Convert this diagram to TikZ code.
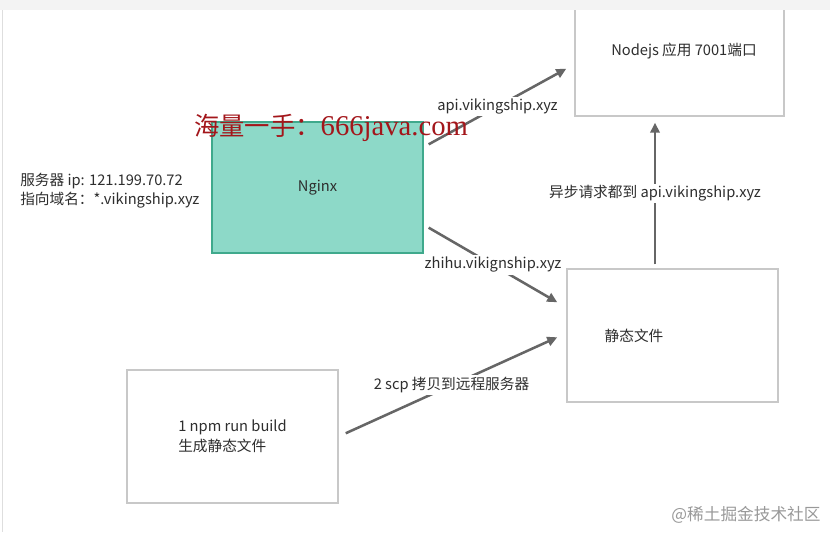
\documentclass[tikz,border=0pt]{standalone}
\usepackage{fontspec}
\setmainfont{Noto Sans CJK SC}
\newfontfamily\wmserif{Liberation Serif}
\usepackage{xcolor}
\usepackage{tikz}
\usetikzlibrary{arrows.meta}
\definecolor{boxLine}{HTML}{C8C8C8}
\definecolor{nginxFill}{HTML}{8DD9C8}
\definecolor{nginxLine}{HTML}{3FA98C}
\definecolor{flowGrey}{HTML}{666666}
\definecolor{textGrey}{HTML}{2E2E2E}
\definecolor{markRed}{HTML}{A3161B}
\definecolor{bandGrey}{HTML}{F3F3F3}
\tikzset{
  plainbox/.style={rectangle, draw=boxLine, fill=white, line width=1.1pt, align=left, font=\fontsize{11}{15}\selectfont, text=textGrey, inner sep=0pt},
  nginxbox/.style={rectangle, draw=nginxLine, fill=nginxFill, line width=1pt, align=center, font=\fontsize{11}{15}\selectfont, text=textGrey, inner sep=0pt},
  plaintext/.style={font=\fontsize{11}{14.25}\selectfont, text=textGrey, align=left, inner sep=0pt},
  flowarrow/.style={-{Triangle[length=7.5pt,width=7pt]}, line width=1.9pt, draw=flowGrey},
  flowlabel/.style={fill=white, font=\fontsize{11}{14}\selectfont, text=textGrey, inner sep=1.5pt},
}

\begin{document}
\begin{tikzpicture}[x=0.75pt,y=-0.75pt]
  \useasboundingbox[fill=white] (0,0) rectangle (830,532);

  \node[plainbox, minimum width=156.75pt, minimum height=81pt] (nodejs) at (679.5,62) {};
  \node[nginxbox, minimum width=158.25pt, minimum height=98.25pt] (nginx) at (317.5,187.5) {Nginx};
  \node[plainbox, minimum width=158.25pt, minimum height=99.75pt] (static) at (672.5,335.5) {};
  \node[plainbox, minimum width=158.25pt, minimum height=99.75pt] (build) at (232.5,436.5) {1 npm run build\\生成静态文件};

  % window edge
  \fill[bandGrey] (0,0) rectangle (830,10);
  \draw[boxLine!60, line width=0.8pt] (2.5,10) -- (2.5,532);

  \node[plaintext] (nodejstxt) at (684,51) {Nodejs 应用 7001端口};
  \node[plaintext] (statictxt) at (634,336) {静态文件};
  \node[plaintext, anchor=west] (server) at (20,190.5) {服务器 ip: 121.199.70.72\\指向域名：*.vikingship.xyz};

  \draw[flowarrow] ([shift={(5,23)}]nginx.north east) -- ([shift={(-8,-48)}]nodejs.south west)
    node[flowlabel, midway] (apilbl) {api.vikingship.xyz};
  \draw[flowarrow] ([shift={(5,-26)}]nginx.south east) -- ([shift={(-9,34)}]static.north west)
    node[flowlabel, midway] (zhihulbl) {zhihu.vikignship.xyz};
  \draw[flowarrow] ([shift={(7,64)}]build.north east) -- ([shift={(-9,69)}]static.north west)
    node[flowlabel, midway] (scplbl) {2 scp 拷贝到远程服务器};
  \draw[flowarrow] ([shift={(-17.5,-4)}]static.north) -- ([shift={(-24.5,6)}]nodejs.south)
    node[flowlabel, midway] (asynclbl) {异步请求都到 api.vikingship.xyz};

  % watermarks
  \node[text=markRed, font=\fontsize{19}{20}\selectfont, inner sep=0pt] (mark) at (331,128)
    {海量一手：{\wmserif\fontsize{21.5}{20}\selectfont 666java.com}};
  \node[text=black!40, font=\fontsize{12.5}{14}\selectfont, inner sep=0pt] (juejin) at (746,515) {@稀土掘金技术社区};
\end{tikzpicture}
\end{document}
